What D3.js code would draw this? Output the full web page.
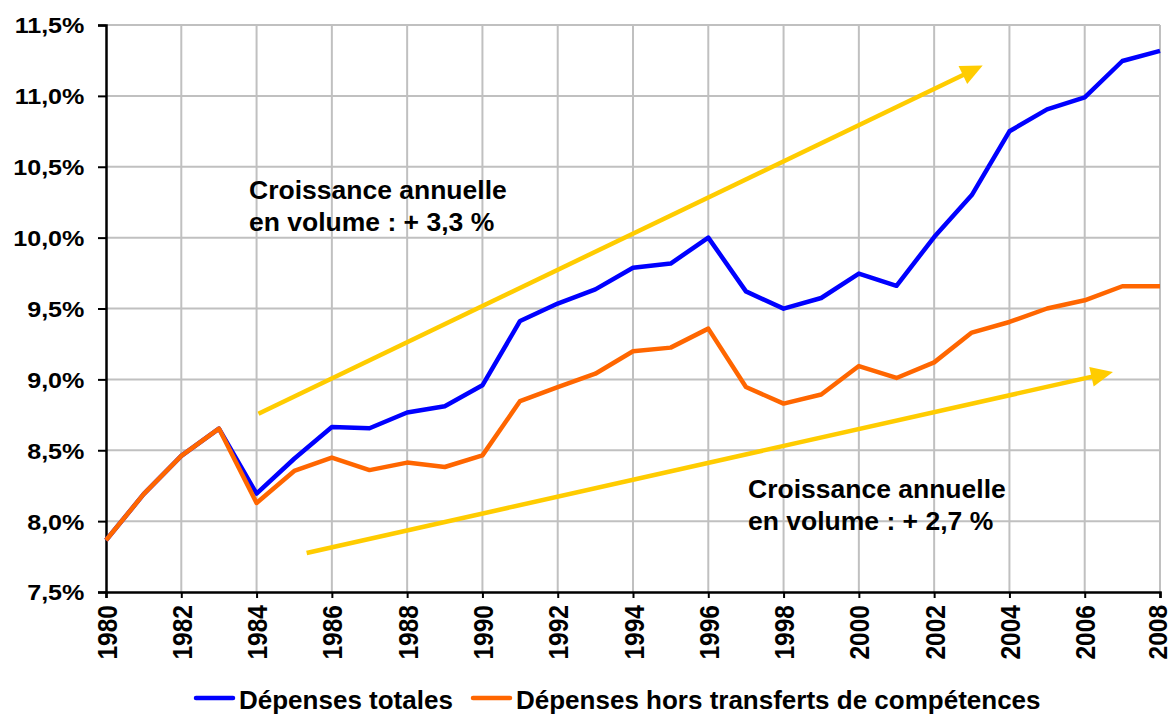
<!DOCTYPE html>
<html>
<head>
<meta charset="utf-8">
<script src="https://cdn.jsdelivr.net/npm/d3@7"></script>
<style>
  body { margin: 0; background: #fff; }
  text { font-family: "Liberation Sans", Arial, sans-serif; font-weight: bold; fill: #000; }
</style>
</head>
<body>
<div id="chart"></div>
<script>
// data
var years = d3.range(1980, 2009)
var totales = [7.865, 8.19, 8.46, 8.653, 8.194, 8.44, 8.664, 8.655, 8.766, 8.81, 8.958,
  9.412, 9.535, 9.635, 9.788, 9.817, 10.0, 9.621, 9.499, 9.574, 9.746, 9.66, 10.004,
  10.30, 10.75, 10.905, 10.99, 11.246, 11.317]
var horsTransferts = [7.865, 8.19, 8.46, 8.653, 8.128, 8.354, 8.448, 8.36, 8.413, 8.382, 8.464,
  8.847, 8.946, 9.04, 9.198, 9.224, 9.358, 8.946, 8.829, 8.893, 9.094, 9.01, 9.12,
  9.33, 9.405, 9.50, 9.558, 9.657, 9.657]
var yTicks = [7.5, 8.0, 8.5, 9.0, 9.5, 10.0, 10.5, 11.0, 11.5]
var xTicks = d3.range(1980, 2009, 2)
var seriesNames = ['Dépenses totales', 'Dépenses hors transferts de compétences']
// trend arrows (year, value) start -> tip
var arrowHigh = [[1984.05, 8.758], [2003.29, 11.214]]
var arrowLow = [[1985.33, 7.775], [2006.75, 9.052]]
var noteHigh = ['Croissance annuelle', 'en volume : + 3,3 %']
var noteLow = ['Croissance annuelle', 'en volume : + 2,7 %']

var svgWidth = 1168
var svgHeight = 714
var margin = { top: 25, right: 8, bottom: 122, left: 106 }
var width = svgWidth - margin.left - margin.right
var height = svgHeight - margin.top - margin.bottom
var stretch = 'scale(1.14,1)'

var svg = d3.select('#chart').append('svg')
  .attr('width', svgWidth)
  .attr('height', svgHeight)

var chartGroup = svg.append('g')
  .attr('transform', `translate(${margin.left}, ${margin.top})`)

var xScale = d3.scaleLinear().domain([1980, 2008]).range([0, width])
var yScale = d3.scaleLinear().domain([7.5, 11.5]).range([height, 0])

// grid
chartGroup.append('g').selectAll('line.h')
  .data(yTicks.slice(1))
  .enter().append('line')
  .attr('x1', 0).attr('x2', width)
  .attr('y1', d => yScale(d)).attr('y2', d => yScale(d))
  .attr('stroke', '#c0c0c0').attr('stroke-width', 2)
chartGroup.append('g').selectAll('line.v')
  .data(xTicks.slice(1))
  .enter().append('line')
  .attr('x1', d => xScale(d)).attr('x2', d => xScale(d))
  .attr('y1', 0).attr('y2', height)
  .attr('stroke', '#c0c0c0').attr('stroke-width', 2)

// axes
var yAxis = d3.axisLeft(yScale).tickValues(yTicks).tickSize(8).tickPadding(0)
  .tickFormat(d => d.toFixed(1).replace('.', ',') + '%')
var yG = chartGroup.append('g').call(yAxis)
yG.selectAll('text')
  .attr('x', -19)
  .attr('dy', '0.36em')
  .attr('transform', stretch)
  .style('font-size', '22px')

var xAxis = d3.axisBottom(xScale).tickValues(xTicks).tickSize(6).tickFormat(d => d)
var xG = chartGroup.append('g')
  .attr('transform', `translate(0, ${height})`)
  .call(xAxis)
xG.selectAll('text')
  .attr('y', 0).attr('x', 0)
  .attr('dy', '0.36em')
  .attr('text-anchor', 'end')
  .attr('transform', d => d === 2008
    ? 'translate(-3,13) rotate(-90) scale(1,1.06)'
    : 'translate(0,13) rotate(-90) scale(1,1.14)')
  .style('font-size', '24.5px')

chartGroup.selectAll('.domain').attr('stroke', '#000').attr('stroke-width', 2.5)
chartGroup.selectAll('.tick line').attr('stroke', '#000').attr('stroke-width', 2)

// arrows
function drawArrow(pts) {
  var x0 = xScale(pts[0][0]), y0 = yScale(pts[0][1])
  var x1 = xScale(pts[1][0]), y1 = yScale(pts[1][1])
  var len = Math.hypot(x1 - x0, y1 - y0)
  var ux = (x1 - x0) / len, uy = (y1 - y0) / len
  var headLen = 22, headHalf = 10
  var bx = x1 - ux * headLen, by = y1 - uy * headLen
  chartGroup.append('line')
    .attr('x1', x0).attr('y1', y0)
    .attr('x2', bx + ux * 2).attr('y2', by + uy * 2)
    .attr('stroke', '#ffcc00').attr('stroke-width', 4.5)
  chartGroup.append('polygon')
    .attr('points', [[x1, y1], [bx - uy * headHalf, by + ux * headHalf], [bx + uy * headHalf, by - ux * headHalf]].join(' '))
    .attr('fill', '#ffcc00')
}
drawArrow(arrowHigh)
drawArrow(arrowLow)

// series lines
var line = d3.line()
  .x((d, i) => xScale(years[i]))
  .y(d => yScale(d))

chartGroup.append('path')
  .datum(totales)
  .attr('d', line)
  .attr('fill', 'none')
  .attr('stroke', '#0000ff')
  .attr('stroke-width', 4.5)
  .attr('stroke-linejoin', 'round')

chartGroup.append('path')
  .datum(horsTransferts)
  .attr('d', line)
  .attr('fill', 'none')
  .attr('stroke', '#ff6600')
  .attr('stroke-width', 4.5)
  .attr('stroke-linejoin', 'round')

// annotations
function drawNote(lines, x, y) {
  var t = svg.append('text')
    .attr('x', x).attr('y', y)
    .style('font-size', '26.5px')
  t.selectAll('tspan')
    .data(lines)
    .enter().append('tspan')
    .attr('x', x)
    .attr('dy', (d, i) => i === 0 ? 0 : 32)
    .text(d => d)
}
drawNote(noteHigh, 249, 199)
drawNote(noteLow, 748, 498)

// legend
var legendColors = ['#0000ff', '#ff6600']
var legendX = [196, 473]
var legendY = 698
var legend = svg.append('g')
legendColors.forEach(function(c, i) {
  legend.append('line')
    .attr('x1', legendX[i]).attr('x2', legendX[i] + 37)
    .attr('y1', legendY).attr('y2', legendY)
    .attr('stroke', c).attr('stroke-width', 4.5)
    .attr('stroke-linecap', 'round')
  legend.append('text')
    .attr('x', legendX[i] + 43).attr('y', 709)
    .style('font-size', '26px')
    .text(seriesNames[i])
})
</script>
</body>
</html>
